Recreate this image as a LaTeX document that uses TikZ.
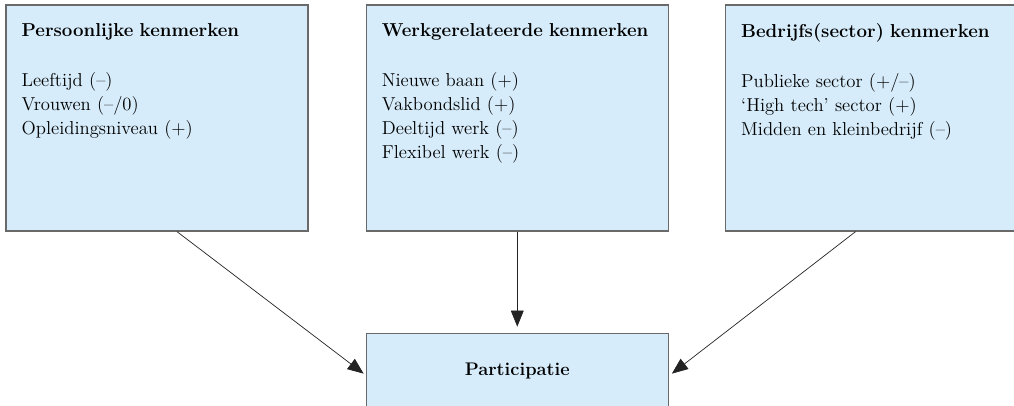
\documentclass[tikz,border=0pt]{standalone}
\usepackage{fontspec}
\usepackage{tikz}
\usetikzlibrary{arrows.meta,positioning}
\definecolor{lichtblauw}{RGB}{214,236,250}
\definecolor{randgrijs}{RGB}{105,105,105}
\definecolor{pijlgrijs}{RGB}{35,35,35}

\begin{document}
\begin{tikzpicture}[
  blok/.style={draw=randgrijs,line width=0.9pt,fill=lichtblauw,minimum width=7.55cm,minimum height=5.65cm,inner sep=0pt},
  inhoud/.style={anchor=north west,inner sep=0pt,text width=7cm,align=left,font=\fontsize{13.3}{17}\selectfont},
  pijl/.style={draw=pijlgrijs,line width=0.5pt,-{Triangle[length=0.4cm,width=0.32cm]}}
]
\useasboundingbox (0,0) rectangle (25.35,-10.125);
\node[blok] (pers) at (3.925,-2.95) {};
\node[blok,right=1.425cm of pers] (werk) {};
\node[blok,right=1.4cm of werk] (bedr) {};
\node[blok,minimum height=1.9cm,below=2.525cm of werk,font=\fontsize{13}{17}\selectfont\bfseries] (part) {Participatie};

\node[inhoud] (pers-tekst) at ([xshift=0.4cm,yshift=-0.47cm]pers.north west)
{\textbf{Persoonlijke kenmerken}\\[0.65cm] Leeftijd (--)\\ Vrouwen (--/0)\\ Opleidingsniveau (+)};
\node[inhoud] (werk-tekst) at ([xshift=0.4cm,yshift=-0.47cm]werk.north west)
{\textbf{Werkgerelateerde kenmerken}\\[0.65cm] Nieuwe baan (+)\\ Vakbondslid (+)\\ Deeltijd werk (--)\\ Flexibel werk (--)};
\node[inhoud] (bedr-tekst) at ([xshift=0.4cm,yshift=-0.47cm]bedr.north west)
{\textbf{Bedrijfs(sector) kenmerken}\\[0.65cm] Publieke sector (+/--)\\ `High tech' sector (+)\\ Midden en kleinbedrijf (--)};

\draw[pijl] ([xshift=0.5cm]pers.south) -- ([xshift=-0.05cm,yshift=-1.025cm]part.north west);
\draw[pijl] (werk.south) -- ([yshift=0.15cm]part.north);
\draw[pijl] ([xshift=-0.525cm]bedr.south) -- ([xshift=0.075cm,yshift=-1.025cm]part.north east);
\end{tikzpicture}
\end{document}
